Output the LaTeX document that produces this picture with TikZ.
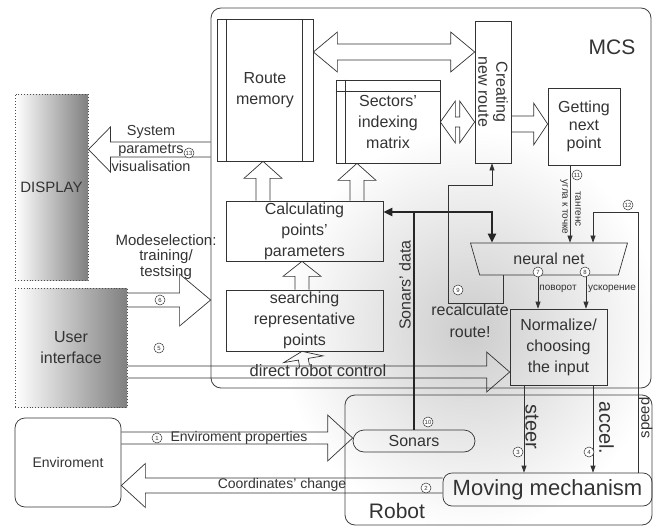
\documentclass[tikz,border=0pt]{standalone}
\usepackage{fontspec}
\setmainfont{Liberation Sans}
\usetikzlibrary{calc,arrows.meta,shapes.geometric,positioning}

\newcommand\fatarrow[5]{%
  \coordinate (fa-b) at ($(#2)!#5!(#1)$);
  \draw[fat] ($(#1)!#3!90:(#2)$) -- ($(fa-b)!#3!90:(#2)$) -- ($(fa-b)!#4!90:(#2)$) -- (#2)
    -- ($(fa-b)!#4!-90:(#2)$) -- ($(fa-b)!#3!-90:(#2)$) -- ($(#1)!#3!-90:(#2)$);
}
\newcommand\fatdouble[5]{%
  \coordinate (fa-a) at ($(#1)!#5!(#2)$);
  \coordinate (fa-b) at ($(#2)!#5!(#1)$);
  \draw[fat] (#1) -- ($(fa-a)!#4!90:(#2)$) -- ($(fa-a)!#3!90:(#2)$) -- ($(fa-b)!#3!90:(#2)$)
    -- ($(fa-b)!#4!90:(#2)$) -- (#2) -- ($(fa-b)!#4!-90:(#2)$) -- ($(fa-b)!#3!-90:(#2)$)
    -- ($(fa-a)!#3!-90:(#2)$) -- ($(fa-a)!#4!-90:(#2)$) -- cycle;
}

\begin{document}
\begin{tikzpicture}[x=1pt,y=-1pt,
  font=\fontsize{16}{21}\selectfont, text=black!80,
  box/.style={draw=black!80, line width=0.7pt, inner sep=0pt, align=center},
  panel/.style={draw=black!70, dotted, line width=0.9pt, left color=white, right color=black!50, inner sep=0pt, align=center},
  frame/.style={draw=black!75, line width=0.8pt, rounded corners=10pt, inner sep=0pt},
  fat/.style={draw=black!80, line width=0.7pt, line join=miter},
  wire/.style={draw=black!80, line width=0.7pt, -{Triangle[length=7pt,width=5pt]}},
  sonar/.style={draw=black!85, line width=2.2pt, -{Triangle[length=9pt,width=8pt]}},
  num/.style={circle, draw=black!80, fill=white, line width=0.5pt, inner sep=0pt, minimum size=10pt, font=\fontsize{6}{6}\selectfont},
  rus/.style={font=\fontsize{10}{10}\selectfont, inner sep=0pt},
  big/.style={font=\fontsize{21}{21}\selectfont}]

\useasboundingbox (0,0) rectangle (653,527);
\shade[inner color=black!20, outer color=white] (470,330) ellipse [x radius=190pt, y radius=200pt];

\node[frame, minimum width=440pt, minimum height=380pt] (mcsf) at (431,198) {};
\node[frame, minimum width=307pt, minimum height=130pt] (robf) at (498.5,460) {};
\node[big] (mcs) at (612,47) {MCS};
\node[big] (rob) at (397,511) {Robot};

\node[panel, minimum width=73pt, minimum height=186pt, font=\fontsize{15}{18}\selectfont] (disp) at (51.5,187) {DISPLAY};
\node[panel, minimum width=112pt, minimum height=119pt] (ui) at (71,347.5) {User\\interface};
\node[box, rounded corners=10pt, minimum width=106pt, minimum height=89pt, font=\fontsize{14}{16}\selectfont] (env) at (68,462.5) {Enviroment};

\node[box, minimum width=96pt, minimum height=142pt] (mem) at (265,90) {Route\\memory};
\draw[box] ([xshift=10pt]mem.north west) -- ([xshift=10pt]mem.south west)
  ([xshift=-11pt]mem.north east) -- ([xshift=-11pt]mem.south east);
\node[box, minimum width=104pt, minimum height=83pt] (mat) at (388,121.5) {Sectors'\\indexing\\matrix};
\draw[box] ([xshift=10pt]mat.north west) -- ([xshift=10pt]mat.south west)
  ([yshift=-12pt]mat.north west) -- ([yshift=-12pt]mat.north east);
\node[box, minimum width=36pt, minimum height=142pt] (cre) at (493,92) {};
\node[rotate=-90, align=center, font=\fontsize{16}{18}\selectfont] (cretxt) at (cre) {Creating\\new route};
\node[box, minimum width=72pt, minimum height=77pt, font=\fontsize{16}{18}\selectfont] (gnp) at (584,126.5) {Getting\\next\\point};
\node[box, minimum width=157pt, minimum height=60pt] (cpp) at (304.5,231) {Calculating\\points'\\parameters};
\node[box, minimum width=157pt, minimum height=61pt] (srp) at (304.5,320.5) {searching\\representative\\points};
\node[trapezium, trapezium angle=52, shape border rotate=180, trapezium stretches body,
  draw=black!80, line width=0.7pt, minimum width=157pt, minimum height=32pt, inner sep=0pt] (nn) at (549,259) {neural net};
\node[box, minimum width=97pt, minimum height=76pt] (nor) at (558.5,347) {Normalize/\\choosing\\the input};
\node[box, rounded corners=11pt, minimum width=122pt, minimum height=22pt] (son) at (414,441) {Sonars};
\node[box, rounded corners=9pt, minimum width=209pt, minimum height=33pt, font=\fontsize{22}{22}\selectfont] (mov) at (547.5,489.5) {Moving mechanism};

\fatdouble{mem.east |- 0,52}{cre.west |- 0,52}{8pt}{20pt}{24pt}
\fatdouble{mat.east |- 0,122}{cre.west |- 0,122}{5pt}{21pt}{15pt}
\fatarrow{cre.east |- 0,124}{gnp.west |- 0,124}{8pt}{21pt}{14pt}
\fatarrow{cpp.north -| 263,0}{mem.south -| 263,0}{7pt}{19pt}{17pt}
\fatarrow{cpp.north -| 357,0}{mat.south -| 357,0}{7pt}{19pt}{17pt}
\fatarrow{srp.north -| 302,0}{cpp.south -| 302,0}{7pt}{19pt}{15pt}
\fatarrow{srp.south |- 0,366}{srp.south -| 302,0}{5pt}{20pt}{8pt}
\fatarrow{mcsf.west |- 0,149.5}{disp.east |- 0,149.5}{7.5pt}{22.5pt}{22pt}
\fatarrow{ui.east |- 0,300}{mcsf.west |- 0,300}{7pt}{26pt}{31pt}
\fatarrow{ui.east |- 0,372}{nor.west |- 0,372}{6pt}{20pt}{23pt}
\fatarrow{env.east |- 0,438}{son.west |- 0,438}{6pt}{23pt}{25pt}
\fatarrow{mov.west |- 0,485.5}{env.east |- 0,485.5}{7.5pt}{22pt}{24pt}

\node[font=\fontsize{14.5}{18}\selectfont, align=center] (sysv) at (151,149) {System\\parametrs\\visualisation};
\node[font=\fontsize{15}{15.5}\selectfont, align=center] (mode) at (166,257) {Modeselection:\\training/\\testsing};
\node[font=\fontsize{16.5}{16.5}\selectfont] (dctl) at (318,371) {direct robot control};
\node[font=\fontsize{14}{14}\selectfont, anchor=west] (envp) at (167,438) {Enviroment properties};
\node[font=\fontsize{14}{14}\selectfont] (coch) at (282,485) {Coordinates' change};

\coordinate (sd) at (son.north |- 0,212);
\draw[sonar] (son.north) -- (sd) -| (nn.north -| 492,0);
\draw[sonar] (sd) -- (sd -| cpp.east);
\node[rotate=90] (sdat) at (405,285) {Sonars' data};

\draw[wire] ([xshift=-14pt]gnp.south) -- ([xshift=-14pt]gnp.south |- nn.north);
\node[rus, rotate=-90] (tang) at (578,209) {тангенс};
\node[rus, rotate=-90] (ugla) at (564,207) {угла к точке};
\coordinate (spd) at (593,212);
\draw[wire] (mov.north -| 638,0) |- (spd) -- (spd |- nn.north);
\node[rotate=90, inner sep=0pt, font=\fontsize{15}{15}\selectfont] (speed) at (645.5,418) {speed};

\draw[wire] (nn.south -| 538,0) -- (nor.north -| 538,0);
\draw[wire] (nn.south -| 586,0) -- (nor.north -| 586,0);
\node[rus] (pov) at (558,289) {поворот};
\node[rus] (usk) at (612,289) {ускорение};
\draw[wire] (nn.south -| 503,0) |- (448,303) -- (448,185) -| (cre.south -| 492,0);
\node[align=center, font=\fontsize{16}{22}\selectfont] (recalc) at (470,321) {recalculate\\route!};

\draw[wire] (nor.south -| 524,0) -- (mov.north -| 524,0);
\draw[wire] (nor.south -| 593,0) -- (mov.north -| 593,0);
\node[rotate=-90, font=\fontsize{20}{20}\selectfont] (steer) at (532,427) {steer};
\node[rotate=-90, font=\fontsize{20}{20}\selectfont] (accel) at (606.5,428) {accel.};

\foreach \n/\x/\y in {1/157/438, 2/426/488, 3/518/452, 4/589/452, 5/159/348, 6/160/300, 7/538/272,
  8/585/272, 9/458/290, 10/428/422, 11/577/175, 12/628/205, 13/189/153}
  \node[num] (n\n) at (\x,\y) {\n};
\end{tikzpicture}
\end{document}
